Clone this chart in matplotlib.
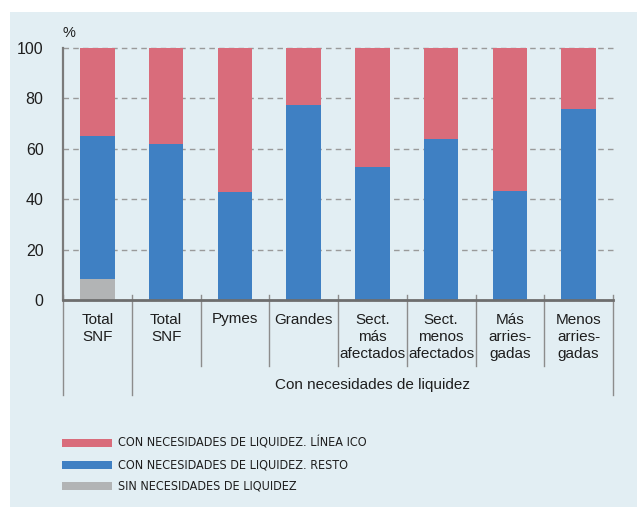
import matplotlib
matplotlib.use('Agg')
from matplotlib import pyplot as plt
from matplotlib.patches import Rectangle
import numpy as np

categories = ['Total\nSNF', 'Total\nSNF', 'Pymes', 'Grandes',
              'Sect.\nmás\nafectados', 'Sect.\nmenos\nafectados',
              'Más\narries-\ngadas', 'Menos\narries-\ngadas']
sin_necesidades = [8.5, 0, 0, 0, 0, 0, 0, 0]
con_resto = [56.7, 61.9, 42.7, 77.4, 52.9, 63.9, 43.4, 75.9]
con_ico = [100 - s - r for s, r in zip(sin_necesidades, con_resto)]
group_label = 'Con necesidades de liquidez'

legend_labels = ['CON NECESIDADES DE LIQUIDEZ. LÍNEA ICO',
                 'CON NECESIDADES DE LIQUIDEZ. RESTO',
                 'SIN NECESIDADES DE LIQUIDEZ']

PINK = '#d96c7b'
BLUE = '#3f80c3'
GREY = '#b2b4b5'
PANEL = '#e2eef3'
TEXT = '#1e1e1e'

plt.rcParams['font.family'] = ['Liberation Sans', 'DejaVu Sans']

W, H = 639, 507
fig = plt.figure(figsize=(W / 100, H / 100), dpi=100)
fig.patch.set_facecolor('white')
fig.patches.append(Rectangle((10 / W, 0), 627 / W, 1 - 12 / H,
                             transform=fig.transFigure, facecolor=PANEL,
                             edgecolor='none', zorder=-5))

ax = fig.add_axes([63 / W, 1 - 300 / H, 550 / W, 252 / H])
ax.set_facecolor('none')
ax.set_zorder(2)

x = np.arange(len(categories))
bottom2 = np.array(sin_necesidades) + np.array(con_resto)
ax.bar(x, sin_necesidades, 0.5, color=GREY, zorder=3)
ax.bar(x, con_resto, 0.5, bottom=sin_necesidades, color=BLUE, zorder=3)
ax.bar(x, con_ico, 0.5, bottom=bottom2, color=PINK, zorder=3)

ax.set_xlim(-0.5, len(categories) - 0.5)
ax.set_ylim(0, 100)
ax.set_yticks(range(0, 101, 20))
ax.tick_params(axis='y', length=0, pad=14, labelsize=11.5, labelcolor=TEXT)
ax.grid(axis='y', color='#9a9a9a', linestyle=(0, (4, 3)), linewidth=1,
        zorder=1)
for gl in ax.get_ygridlines():
    gl.set_clip_on(False)

ax.set_xticks(x)
ax.set_xticklabels(categories, fontsize=11, color=TEXT, linespacing=1.28)
ax.tick_params(axis='x', length=0, pad=9)

for side in ('top', 'right'):
    ax.spines[side].set_visible(False)
ax.spines['left'].set_color('#7a7a7a')
ax.spines['left'].set_linewidth(1.6)
ax.spines['bottom'].set_color('#6e6e6e')
ax.spines['bottom'].set_linewidth(2)
ax.spines['bottom'].set_zorder(4)

# category separators below the axis
trans = ax.get_xaxis_transform()
for k in range(len(categories) + 1):
    xs = k - 0.5
    long_line = k in (0, 1, len(categories))
    y_end = -95 / 252 if long_line else -66 / 252
    ax.plot([xs, xs], [5 / 252, y_end], transform=trans, color='#8c8c8c',
            linewidth=1, clip_on=False, zorder=2)

ax.text((1 + len(categories) - 1) / 2, -85 / 252, group_label,
        transform=trans, ha='center', va='center', fontsize=11, color=TEXT)
ax.text(0, 1.06, '%', transform=ax.transAxes, ha='left', va='center',
        fontsize=10.5, color=TEXT)

# legend
for i, (lab, col) in enumerate(zip(legend_labels, [PINK, BLUE, GREY])):
    yc = 443 + i * 21.7
    fig.patches.append(Rectangle((62 / W, 1 - (yc + 4) / H), 50 / W, 8 / H,
                                 transform=fig.transFigure, facecolor=col,
                                 edgecolor='none', zorder=2))
    fig.text(118 / W, 1 - yc / H, lab, ha='left', va='center',
             fontsize=9, family='DejaVu Sans', fontstretch='condensed',
             color=TEXT)

fig.savefig('out.png', dpi=100)
